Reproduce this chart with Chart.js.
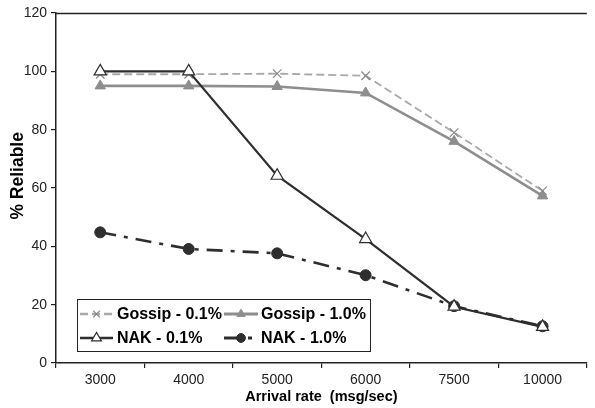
<!DOCTYPE html>
<html>
<head>
<meta charset="utf-8">
<script src="https://cdn.jsdelivr.net/npm/chart.js@4/dist/chart.umd.min.js"></script>
<style>
  html, body { margin:0; padding:0; background:#fff; }
  #wrap { width:595px; height:408px; position:relative; }
</style>
</head>
<body>
<div id="wrap"><canvas id="chart"></canvas></div>
<script>
// data
const rates = ['3000', '4000', '5000', '6000', '7500', '10000'];
const gossip01 = [99, 99, 99.2, 98.5, 79, 59];
const gossip10 = [95, 95, 94.8, 92.6, 76, 57.3];
const nak01 = [100, 100, 64.2, 42.5, 19.3, 12.4];
const nak10 = [44.8, 39.1, 37.6, 30.1, 19.5, 12.6];
const yTicks = [0, 20, 40, 60, 80, 100, 120];

const FONT = '"Liberation Sans", Arial, sans-serif';

// draw one marker (used by the legend box)
function marker(ctx, style, x, y, r, fill, stroke, lw) {
  ctx.save();
  ctx.lineWidth = lw; ctx.strokeStyle = stroke; ctx.fillStyle = fill;
  ctx.setLineDash([]);
  ctx.beginPath();
  if (style === 'crossRot') {
    const d = r * 0.7;
    ctx.moveTo(x-d, y-d); ctx.lineTo(x+d, y+d);
    ctx.moveTo(x+d, y-d); ctx.lineTo(x-d, y+d);
    ctx.stroke();
  } else if (style === 'triangle') {
    ctx.moveTo(x, y - r);
    ctx.lineTo(x + r*0.87, y + r*0.5);
    ctx.lineTo(x - r*0.87, y + r*0.5);
    ctx.closePath(); ctx.fill(); ctx.stroke();
  } else {
    ctx.arc(x, y, r, 0, Math.PI*2); ctx.fill(); ctx.stroke();
  }
  ctx.restore();
}

// top frame line + boxed legend inside the plot
const frameAndLegend = {
  id: 'frameAndLegend',
  afterDraw(chart) {
    const ctx = chart.ctx, a = chart.chartArea;
    ctx.save();
    ctx.strokeStyle = '#222'; ctx.lineWidth = 1.5;
    ctx.beginPath(); ctx.moveTo(a.left, a.top + 0.5); ctx.lineTo(a.right, a.top + 0.5); ctx.stroke();

    // legend box
    const bx = 77.5, by = 299.5, bw = 293, bh = 52;
    ctx.fillStyle = '#fff'; ctx.fillRect(bx, by, bw, bh);
    ctx.strokeStyle = '#222'; ctx.lineWidth = 1;
    ctx.strokeRect(bx, by, bw, bh);

    const cols = [{x0: 80, x1: 113, tx: 117}, {x0: 224, x1: 258, tx: 261}];
    const rows = [314, 338];
    chart.data.datasets.forEach((ds, i) => {
      const c = cols[i % 2], y = rows[Math.floor(i / 2)];
      ctx.save();
      ctx.strokeStyle = ds.borderColor; ctx.lineWidth = ds.borderWidth + 0.5;
      ctx.setLineDash(ds.borderDash || []);
      ctx.beginPath(); ctx.moveTo(c.x0, y); ctx.lineTo(c.x1, y); ctx.stroke();
      ctx.restore();
      marker(ctx, ds.pointStyle, (c.x0 + c.x1) / 2, y, ds.pointRadius * 0.8,
             ds.pointBackgroundColor, ds.pointBorderColor, ds.pointBorderWidth);
      ctx.fillStyle = '#000';
      ctx.font = 'bold 16px ' + FONT;
      ctx.textBaseline = 'middle'; ctx.textAlign = 'left';
      ctx.fillText(ds.label, c.tx, y + 1);
    });
    ctx.restore();
  }
};

new Chart(document.getElementById('chart'), {
  type: 'line',
  data: {
    labels: rates,
    datasets: [
      { label: 'Gossip - 0.1%', data: gossip01, borderColor: '#a8a8a8', borderWidth: 1.8,
        borderDash: [8, 4], pointStyle: 'crossRot', pointRadius: 6, pointBorderColor: '#888',
        pointBackgroundColor: '#888', pointBorderWidth: 1.2, order: 3 },
      { label: 'Gossip - 1.0%', data: gossip10, borderColor: '#8e8e8e', borderWidth: 2.6,
        pointStyle: 'triangle', pointRadius: 6, pointBorderColor: '#8e8e8e',
        pointBackgroundColor: '#8e8e8e', pointBorderWidth: 1, order: 4 },
      { label: 'NAK - 0.1%', data: nak01, borderColor: '#2e2e2e', borderWidth: 2.2,
        pointStyle: 'triangle', pointRadius: 7, pointBorderColor: '#2e2e2e',
        pointBackgroundColor: '#fff', pointBorderWidth: 1.2, order: 1 },
      { label: 'NAK - 1.0%', data: nak10, borderColor: '#2e2e2e', borderWidth: 2.6,
        borderDash: [16, 8, 4, 8], pointStyle: 'circle', pointRadius: 5.5, pointBorderColor: '#2e2e2e',
        pointBackgroundColor: '#2e2e2e', pointBorderWidth: 1, order: 2 }
    ]
  },
  options: {
    responsive: true, maintainAspectRatio: false, animation: false,
    layout: { padding: { top: 13, left: 0, right: 0, bottom: 0 } },
    plugins: { legend: { display: false }, tooltip: { enabled: false } },
    elements: { line: { tension: 0 } },
    scales: {
      x: {
        offset: true,
        grid: { display: true, drawOnChartArea: false, drawTicks: true, tickLength: 5, offset: true, color: '#222', lineWidth: 1.2 },
        border: { color: '#222', width: 1.5 },
        ticks: { color: '#222', font: { family: FONT, size: 14 }, padding: 4, maxRotation: 0 },
        title: { display: true, text: 'Arrival rate  (msg/sec)', color: '#000',
                 font: { family: FONT, size: 14.5, weight: 'bold' }, padding: { top: 0, bottom: 2 } },
        afterFit(s) { s.height = 45; }
      },
      y: {
        min: 0, max: 120,
        afterBuildTicks(s) { s.ticks = yTicks.map(v => ({ value: v })); },
        grid: { display: true, drawOnChartArea: false, drawTicks: true, tickLength: 5, color: '#222', lineWidth: 1.2 },
        border: { color: '#222', width: 1.5 },
        ticks: { color: '#222', font: { family: FONT, size: 14 }, padding: 4 },
        title: { display: true, text: '     % Reliable', color: '#000',
                 font: { family: FONT, size: 17.5, weight: 'bold' }, padding: { top: 8, bottom: 0 } },
        afterFit(s) { s.width = 56; }
      }
    }
  },
  plugins: [frameAndLegend]
});
</script>
</body>
</html>
